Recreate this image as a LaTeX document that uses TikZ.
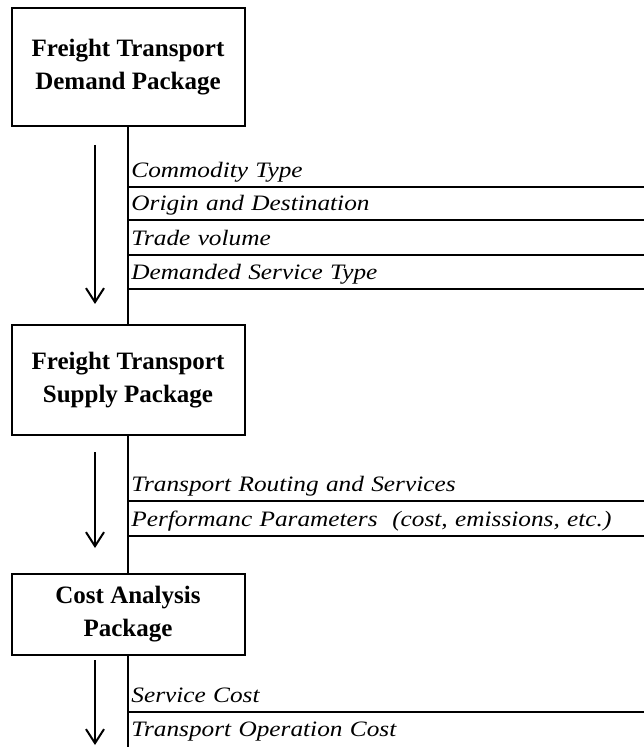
\documentclass[tikz,border=0pt]{standalone}
\usepackage{fontspec}
\setmainfont{Liberation Serif}
\newfontfamily\attrfont[FakeStretch=1.15]{Liberation Serif}
\usetikzlibrary{arrows.meta, positioning}

\begin{document}
\begin{tikzpicture}[x=0.5pt, y=-0.5pt,
    pkg/.style={draw, line width=1pt, minimum width=116.5pt, inner sep=0pt, align=center, font=\fontsize{12.5}{16.5}\selectfont\bfseries},
    attr/.style={anchor=south west, inner xsep=1.5pt, inner ysep=0pt, text width=254.5pt, text depth=4.5pt, align=left, font=\fontsize{11}{13}\selectfont\attrfont\itshape},
    rule/.style={line width=0.9pt},
    flow/.style={-{Straight Barb[length=7pt, width=9pt]}, line width=1pt}
  ]
    \useasboundingbox (0,0) rectangle (643,747);

    % packages
    \node[pkg, minimum height=59pt] (demand) at (128,67) {Freight Transport\\Demand Package};
    \node[pkg, minimum height=55pt, below=98.5pt of demand] (supply) {Freight Transport\\Supply Package};
    \node[pkg, minimum height=40.5pt, below=68.5pt of supply] (cost) {Cost Analysis\\Package};
    \coordinate (bottom) at (128,747);

    \draw[rule] (demand) -- (supply);
    \draw[rule] (supply) -- (cost);
    \draw[rule] (cost) -- (bottom);

    % data passed on
    \node[attr] (commodity) at (128,187) {Commodity Type};
    \node[attr] (origin) at (128,220) {Origin and Destination};
    \node[attr] (volume) at (128,255) {Trade volume};
    \node[attr] (servtype) at (128,289) {Demanded Service Type};
    \node[attr] (routing) at (128,501) {Transport Routing and Services};
    \node[attr] (perform) at (128,536) {Performanc Parameters\ \ (cost, emissions, etc.)};
    \node[attr] (servcost) at (128,712) {Service Cost};
    \node[attr] (opcost) at (128,746) {Transport Operation Cost};

    \foreach \n in {commodity, origin, volume, servtype, routing, perform, servcost}
      \draw[rule] (\n.south west) -- (\n.south east);

    % flow arrows
    \coordinate (f1a) at (95,145);
    \coordinate (f1b) at (95,304);
    \coordinate (f2a) at (95,452);
    \coordinate (f2b) at (95,548);
    \coordinate (f3a) at (95,660);
    \coordinate (f3b) at (95,745);
    \draw[flow] (f1a) -- (f1b);
    \draw[flow] (f2a) -- (f2b);
    \draw[flow] (f3a) -- (f3b);
  \end{tikzpicture}
\end{document}
